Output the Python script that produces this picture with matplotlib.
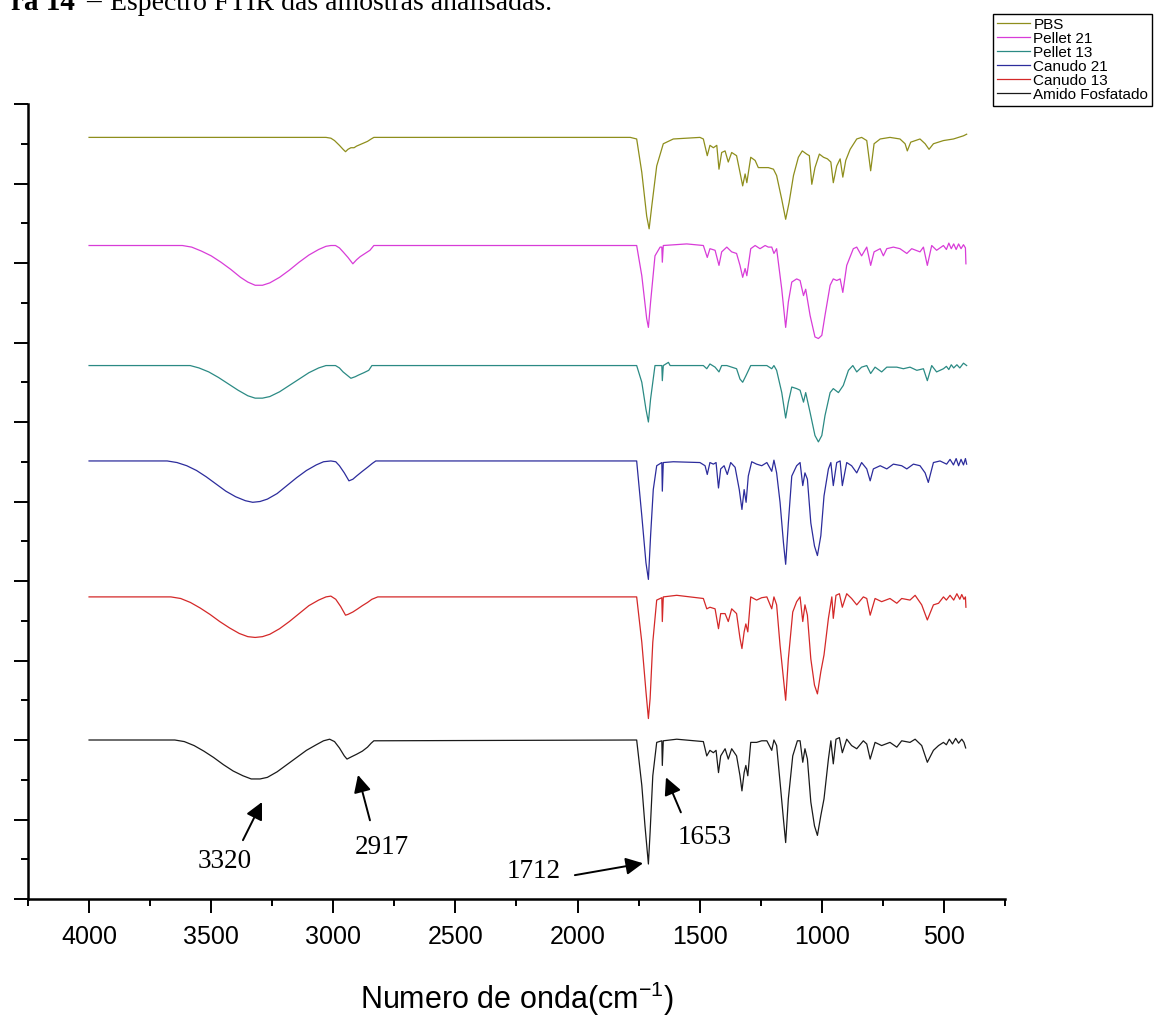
import numpy as np
import matplotlib
matplotlib.use("Agg")
import matplotlib.pyplot as plt  # noqa: E402
from matplotlib.ticker import MultipleLocator, NullFormatter  # noqa: E402

plt.rcParams["mathtext.default"] = "regular"

# Stacked FTIR spectra: (wavenumber cm-1, band depth below the trace's own baseline)
PBS = [
    (4000, 0), (3030, 0), (3010, .01), (2995, .04), (2975, .10), (2960, .15), (2950, .18),
    (2940, .15), (2928, .13), (2915, .13), (2905, .11), (2890, .09), (2875, .07), (2860, .05),
    (2845, .02), (2834, 0), (1784, 0), (1758, .02), (1737, .44),
    (1717, .99), (1707, 1.15), (1696, .86), (1676, .36), (1649, .08), (1608, .02), (1499, 0),
    (1485, .02), (1469, .23), (1458, .10), (1444, .13), (1430, .10), (1421, .40), (1410, .19),
    (1396, .17), (1383, .31), (1369, .19), (1349, .23), (1335, .44), (1324, .61), (1314, .46),
    (1307, .57), (1291, .25), (1273, .29), (1260, .38), (1239, .38), (1219, .38), (1198, .40),
    (1185, .48), (1164, .78), (1148, 1.03), (1134, .82), (1116, .48), (1096, .25), (1080, .17),
    (1062, .21), (1051, .23), (1041, .59), (1028, .38), (1010, .21), (993, .25), (977, .27),
    (963, .31), (953, .57), (939, .36), (925, .27), (914, .50), (902, .29), (884, .15),
    (857, .02), (837, 0), (816, .04), (800, .42), (786, .08), (761, .02), (721, 0), (680, .02),
    (659, .08), (650, .17), (636, .06), (598, .02), (577, .08), (561, .15), (543, .08),
    (502, .04), (461, .02), (420, -.02), (407, -.04),
]
PELLET_21 = [
    (4000, 0), (3618, 0), (3580, .02), (3540, .07), (3500, .13), (3460, .21), (3420, .30),
    (3380, .40), (3350, .46), (3320, .50), (3290, .50), (3260, .47), (3220, .40), (3180, .31),
    (3140, .21), (3100, .12), (3060, .05), (3030, .01), (3010, 0), (2991, 0), (2975, .03),
    (2960, .08), (2940, .15), (2920, .23), (2905, .18), (2890, .14), (2865, .09), (2850, .06),
    (2842, .03), (2834, 0), (1758, 0), (1737, .38), (1717, .92),
    (1710, 1.03), (1701, .71), (1683, .13), (1662, .02), (1655, .02), (1653, .21), (1649, 0),
    (1553, -.02), (1485, 0), (1469, .15), (1458, .04), (1437, .06), (1421, .25), (1410, .08),
    (1389, .02), (1369, .08), (1349, .10), (1335, .25), (1324, .40), (1314, .29), (1307, .38),
    (1291, .04), (1273, 0), (1253, .04), (1232, 0), (1219, .02), (1205, .02), (1196, .10),
    (1185, .04), (1164, .55), (1148, 1.03), (1137, .71), (1123, .46), (1103, .42), (1089, .44),
    (1075, .63), (1066, .55), (1048, .88), (1028, 1.15), (1014, 1.17), (1000, 1.13), (987, .88),
    (966, .50), (953, .42), (939, .44), (925, .42), (914, .59), (898, .25), (871, .04),
    (857, .02), (837, .13), (816, .02), (800, .25), (786, .08), (761, .04), (748, .13),
    (734, .04), (707, .02), (680, .04), (652, .10), (632, .04), (598, .08), (584, .02),
    (568, .25), (550, 0), (530, .06), (502, 0), (490, .05), (480, -.03), (470, .04), (460, -.02),
    (450, .05), (440, -.02), (430, .04), (420, -.01), (412, .03), (410, .23),
]
PELLET_13 = [
    (4000, 0), (3586, 0), (3550, .03), (3510, .08), (3470, .15), (3430, .23), (3390, .31),
    (3350, .38), (3320, .41), (3290, .41), (3260, .39), (3220, .33), (3180, .25), (3140, .17),
    (3100, .09), (3060, .03), (3030, 0), (2991, 0), (2975, .03), (2960, .08), (2940, .13),
    (2928, .16), (2910, .14), (2897, .12), (2875, .09), (2855, .06), (2842, 0),
    (1758, 0), (1737, .21), (1720, .55), (1710, .71), (1701, .42), (1683, 0),
    (1655, 0), (1653, .19), (1649, 0), (1628, -.04), (1621, 0), (1485, 0), (1471, .04),
    (1458, -.02), (1437, .02), (1421, .08), (1410, 0), (1389, 0), (1369, .02), (1349, .04),
    (1335, .17), (1324, .21), (1311, .13), (1291, 0), (1267, 0), (1225, 0), (1205, .04),
    (1196, 0), (1185, .06), (1164, .34), (1148, .66), (1137, .46), (1123, .27), (1103, .29),
    (1089, .31), (1075, .46), (1066, .34), (1048, .59), (1028, .88), (1014, .96), (1000, .88),
    (987, .63), (966, .34), (953, .29), (932, .34), (912, .25), (891, .06), (873, 0),
    (857, .08), (837, .02), (816, 0), (800, .10), (782, .02), (755, .08), (734, .02),
    (693, .02), (666, .04), (639, .02), (611, .06), (584, .04), (568, .19), (550, 0),
    (530, .08), (502, .04), (490, .01), (480, .05), (470, -.01), (460, .03), (447, -.01),
    (435, .03), (420, -.03), (407, 0),
]
CANUDO_21 = [
    (4000, 0), (3680, 0), (3640, .02), (3600, .06), (3560, .12), (3520, .20), (3480, .29),
    (3440, .38), (3400, .45), (3360, .50), (3330, .52), (3300, .51), (3270, .48), (3230, .41),
    (3190, .31), (3150, .21), (3110, .12), (3070, .05), (3040, .01), (3010, 0), (2990, .01),
    (2975, .06), (2955, .15), (2936, .25), (2920, .23), (2905, .19), (2881, .13), (2860, .08),
    (2840, .03), (2826, 0), (1758, 0), (1737, .69), (1720, 1.28), (1710, 1.49),
    (1701, .94), (1690, .36), (1676, .06), (1655, .02), (1653, .38), (1649, .02), (1608, .01),
    (1499, .02), (1478, .06), (1469, .17), (1458, .02), (1444, .04), (1433, .02), (1423, .34),
    (1414, .10), (1400, .06), (1387, .17), (1373, .02), (1355, .08), (1338, .36), (1327, .61),
    (1318, .36), (1310, .52), (1301, .19), (1287, .01), (1267, .04), (1246, .06), (1225, .02),
    (1205, .13), (1196, -.01), (1185, .15), (1171, .52), (1157, 1.03), (1148, 1.30),
    (1137, .78), (1123, .19), (1103, .06), (1089, .02), (1078, .31), (1069, .15), (1059, .23),
    (1045, .78), (1030, 1.07), (1018, 1.19), (1004, .94), (991, .44), (973, .10), (963, .02),
    (953, .31), (939, .02), (925, 0), (916, .31), (898, .02), (878, .06), (857, .15),
    (837, .02), (816, .10), (802, .25), (789, .10), (761, .06), (734, .10), (707, .04),
    (673, .06), (652, .10), (625, .04), (598, .06), (577, .15), (564, .27), (543, .02),
    (516, 0), (489, .04), (475, -.02), (461, .05), (450, -.03), (440, .06), (430, -.02),
    (420, .05), (412, -.03), (407, .04),
]
CANUDO_13 = [
    (4000, 0), (3665, 0), (3625, .02), (3585, .07), (3545, .14), (3505, .22), (3465, .31),
    (3425, .39), (3385, .46), (3350, .50), (3320, .51), (3290, .50), (3260, .47), (3220, .40),
    (3180, .31), (3140, .21), (3100, .11), (3060, .04), (3030, 0), (3010, -.01), (2990, .03),
    (2970, .12), (2950, .23), (2940, .22), (2920, .19), (2900, .15), (2881, .11), (2860, .07),
    (2842, .03), (2818, 0), (1758, 0), (1737, .57), (1720, 1.19), (1710, 1.53), (1703, 1.28),
    (1692, .57), (1676, .04), (1655, .01), (1653, .31), (1649, 0), (1594, -.02), (1485, .02),
    (1471, .15), (1458, .13), (1437, .15), (1423, .40), (1414, .21), (1396, .21), (1383, .31),
    (1369, .15), (1349, .21), (1335, .52), (1327, .65), (1318, .44), (1311, .34), (1303, .44),
    (1291, 0), (1267, .04), (1246, .01), (1225, 0), (1205, .15), (1196, 0), (1185, .10),
    (1171, .61), (1157, 1.03), (1148, 1.30), (1137, .78), (1119, .19), (1103, .06), (1089, 0),
    (1078, .31), (1069, .10), (1059, .23), (1045, .78), (1030, 1.11), (1018, 1.22), (1004, .94),
    (991, .73), (973, .27), (959, 0), (953, .27), (942, -.02), (928, -.04), (916, .13),
    (898, -.04), (878, .02), (857, .10), (830, 0), (816, .02), (802, .23), (782, .02),
    (755, .06), (721, .02), (693, .08), (673, .02), (639, .04), (618, -.02), (591, .10),
    (568, .29), (543, .10), (522, .08), (502, 0), (490, .04), (475, -.02), (460, .04),
    (447, -.04), (435, .03), (427, -.03), (418, .03), (412, 0), (410, .13),
]
AMIDO = [
    (4000, 0), (3649, 0), (3610, .02), (3570, .07), (3530, .14), (3490, .22), (3450, .31),
    (3410, .39), (3370, .45), (3336, .49), (3300, .49), (3270, .47), (3230, .40), (3190, .31),
    (3150, .22), (3110, .13), (3070, .06), (3040, .01), (3015, -.01), (2995, .02), (2975, .10),
    (2955, .20), (2944, .24), (2925, .21), (2905, .18), (2881, .14), (2860, .09), (2845, .04),
    (2834, .01), (1758, 0), (1737, .57), (1724, 1.08), (1710, 1.56), (1703, 1.16), (1692, .45),
    (1676, .03), (1655, .01), (1653, .32), (1649, .01), (1594, -.01), (1485, .02), (1471, .20),
    (1458, .13), (1444, .16), (1433, .13), (1423, .41), (1414, .20), (1396, .11), (1383, .24),
    (1369, .11), (1349, .20), (1335, .45), (1327, .64), (1318, .41), (1311, .32), (1303, .45),
    (1291, .03), (1267, .03), (1246, .01), (1225, .01), (1205, .13), (1196, 0), (1185, .07),
    (1171, .53), (1157, 1.00), (1148, 1.29), (1137, .74), (1119, .20), (1100, .01), (1089, .01),
    (1078, .28), (1069, .11), (1059, .24), (1045, .78), (1030, 1.08), (1018, 1.20), (1004, .95),
    (991, .74), (973, .24), (963, .01), (953, .30), (942, -.01), (928, -.03), (916, .16),
    (898, -.01), (878, .07), (857, .11), (830, .01), (816, .05), (802, .24), (782, .03),
    (755, .07), (721, .03), (693, .09), (673, .01), (639, .03), (618, -.01), (591, .07),
    (568, .28), (543, .13), (522, .07), (502, .03), (490, .06), (478, -.01), (465, .05),
    (452, -.02), (440, .04), (427, -.01), (418, .03), (411, .10),
]

LABELS = ["PBS", "Pellet 21", "Pellet 13", "Canudo 21", "Canudo 13", "Amido Fosfatado"]
SERIES = [PBS, PELLET_21, PELLET_13, CANUDO_21, CANUDO_13, AMIDO]
OFFSETS = [9.58, 8.22, 6.71, 5.51, 3.80, 2.00]
COLORS = ["#8e8e1c", "#d83cd8", "#2b8a84", "#2c2c9c", "#d42828", "#1a1a1a"]

# (label, arrow tip, arrow tail, text position) in data coordinates
PEAKS = [
    ("3320", (3292, 1.22), (3370, 0.74), (3443, 0.47)),
    ("2917", (2899, 1.56), (2850, 0.99), (2801, 0.65)),
    ("1712", (1732, 0.45), (2011, 0.30), (2178, 0.34)),
    ("1653", (1638, 1.53), (1577, 1.09), (1478, 0.77)),
]

W, H = 1163, 1019
fig = plt.figure(figsize=(W / 100, H / 100), dpi=100)
ax = fig.add_axes([28 / W, 1 - 899 / H, 977 / W, 795 / H])

handles = []
for data, off, col, lab in zip(SERIES, OFFSETS, COLORS, LABELS):
    arr = np.array(data, dtype=float)
    ln, = ax.plot(arr[:, 0], off - arr[:, 1], color=col, lw=0.9, label=lab)
    handles.append(ln)

ax.set_xlim(4250, 250)
ax.set_ylim(0, 10)
ax.xaxis.set_major_locator(MultipleLocator(500))
ax.xaxis.set_minor_locator(MultipleLocator(250))
ax.yaxis.set_major_locator(MultipleLocator(1))
ax.yaxis.set_minor_locator(MultipleLocator(0.5))
ax.yaxis.set_major_formatter(NullFormatter())
for s in ("top", "right"):
    ax.spines[s].set_visible(False)
for s in ("left", "bottom"):
    ax.spines[s].set_linewidth(1.8)
ax.tick_params(which="major", direction="out", length=10, width=1.4, pad=9)
ax.tick_params(which="minor", direction="out", length=5, width=1.4)
for t in ax.get_xticklabels():
    t.set_fontfamily("Liberation Sans")
    t.set_fontsize(18)
ax.set_xlabel("Numero de onda(cm$^{-1}$)", fontsize=22, family="Liberation Sans", labelpad=22)

for txt, tip, tail, pos in PEAKS:
    ax.annotate("", xy=tip, xytext=tail,
                arrowprops=dict(arrowstyle="-|>", color="black", lw=1.4, mutation_scale=26,
                                shrinkA=0, shrinkB=0))
    ax.text(pos[0], pos[1], txt, ha="center", va="center", fontsize=19.5,
            family="Liberation Serif")

# legend box runs past the right edge of the page image, as in the source
fig.legend(handles=handles, loc="upper left", bbox_to_anchor=(993 / W, 1 - 14 / H),
           frameon=True, fancybox=False, edgecolor="black", framealpha=1,
           prop={"family": "Liberation Sans", "size": 11}, handlelength=2.2,
           handletextpad=0.2, labelspacing=0.0, borderpad=0.25, borderaxespad=0)

# caption line, cut at the top of the page image
fig.text(75 / W, 1 - 10 / H, "ra 14", ha="right", va="baseline", fontsize=21,
         fontweight="bold", family="Liberation Serif")
fig.text(86 / W, 1 - 10 / H, "\u2013", ha="left", va="baseline", fontsize=21,
         family="Liberation Serif")
fig.text(110 / W, 1 - 10 / H, "Espectro FTIR das amostras analisadas.", ha="left",
         va="baseline", fontsize=20, family="Liberation Serif")

fig.savefig("out.png", dpi=100)
